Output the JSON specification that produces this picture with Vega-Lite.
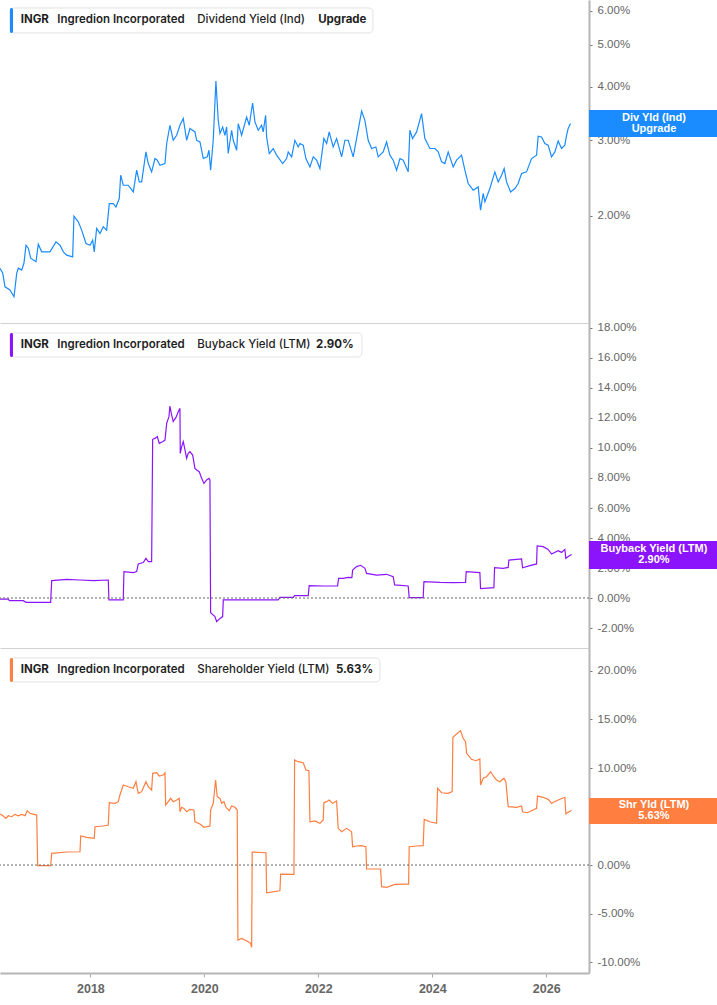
{
  "$schema": "https://vega.github.io/schema/vega-lite/v6.json",
  "padding": 0,
  "background": "white",
  "bounds": "flush",
  "spacing": 0,
  "config": {
    "view": {"stroke": null},
    "axis": {"grid": false, "title": null, "domainColor": "#b5b5b5", "tickColor": "#777777", "labelColor": "#666666", "labelFont": "Liberation Sans", "labelFontSize": 11.5, "labelOverlap": false},
    "text": {"font": "Inter"}
  },
  "datasets": {
    "div": [
      {"t":2016.414,"v":1.509},{"t":2016.461,"v":1.472},{"t":2016.502,"v":1.367},{"t":2016.589,"v":1.344},{"t":2016.660,"v":1.296},{"t":2016.707,"v":1.469},{"t":2016.735,"v":1.511},{"t":2016.795,"v":1.495},{"t":2016.835,"v":1.553},{"t":2016.870,"v":1.709},{"t":2016.911,"v":1.682},{"t":2016.953,"v":1.594},{"t":2017.046,"v":1.564},{"t":2017.086,"v":1.718},{"t":2017.146,"v":1.649},{"t":2017.291,"v":1.649},{"t":2017.396,"v":1.740},{"t":2017.467,"v":1.709},{"t":2017.525,"v":1.649},{"t":2017.584,"v":1.620},{"t":2017.689,"v":1.605},{"t":2017.712,"v":1.997},{"t":2017.788,"v":1.937},{"t":2017.847,"v":1.853},{"t":2017.923,"v":1.725},{"t":2017.993,"v":1.709},{"t":2018.040,"v":1.756},{"t":2018.068,"v":1.649},{"t":2018.110,"v":1.870},{"t":2018.168,"v":1.820},{"t":2018.226,"v":1.886},{"t":2018.286,"v":1.853},{"t":2018.332,"v":2.136},{"t":2018.402,"v":2.136},{"t":2018.449,"v":2.097},{"t":2018.507,"v":2.195},{"t":2018.532,"v":2.487},{"t":2018.577,"v":2.357},{"t":2018.665,"v":2.357},{"t":2018.753,"v":2.274},{"t":2018.812,"v":2.555},{"t":2018.858,"v":2.399},{"t":2018.900,"v":2.399},{"t":2018.975,"v":2.818},{"t":2019.016,"v":2.648},{"t":2019.075,"v":2.532},{"t":2019.133,"v":2.720},{"t":2019.174,"v":2.696},{"t":2019.221,"v":2.624},{"t":2019.309,"v":2.648},{"t":2019.339,"v":2.948},{"t":2019.396,"v":3.251},{"t":2019.454,"v":3.000},{"t":2019.514,"v":3.081},{"t":2019.572,"v":3.251},{"t":2019.630,"v":3.370},{"t":2019.689,"v":3.000},{"t":2019.747,"v":3.194},{"t":2019.835,"v":3.137},{"t":2019.865,"v":3.000},{"t":2019.923,"v":2.973},{"t":2019.981,"v":2.720},{"t":2020.051,"v":2.744},{"t":2020.081,"v":2.844},{"t":2020.110,"v":2.555},{"t":2020.156,"v":3.000},{"t":2020.203,"v":4.121},{"t":2020.244,"v":3.339},{"t":2020.274,"v":3.110},{"t":2020.321,"v":3.221},{"t":2020.361,"v":3.081},{"t":2020.391,"v":3.221},{"t":2020.419,"v":2.794},{"t":2020.479,"v":3.165},{"t":2020.507,"v":3.000},{"t":2020.567,"v":2.844},{"t":2020.595,"v":3.280},{"t":2020.654,"v":3.081},{"t":2020.742,"v":3.398},{"t":2020.788,"v":3.251},{"t":2020.847,"v":3.663},{"t":2020.888,"v":3.309},{"t":2020.946,"v":3.165},{"t":2021.005,"v":3.251},{"t":2021.033,"v":3.137},{"t":2021.075,"v":3.430},{"t":2021.093,"v":3.053},{"t":2021.139,"v":2.794},{"t":2021.209,"v":2.870},{"t":2021.268,"v":2.769},{"t":2021.374,"v":2.648},{"t":2021.444,"v":2.720},{"t":2021.472,"v":2.818},{"t":2021.532,"v":2.744},{"t":2021.589,"v":3.000},{"t":2021.647,"v":2.894},{"t":2021.677,"v":2.948},{"t":2021.735,"v":2.921},{"t":2021.782,"v":2.720},{"t":2021.853,"v":2.600},{"t":2021.911,"v":2.744},{"t":2021.970,"v":2.696},{"t":2022.028,"v":2.578},{"t":2022.098,"v":3.028},{"t":2022.146,"v":2.948},{"t":2022.191,"v":3.137},{"t":2022.261,"v":2.894},{"t":2022.321,"v":3.028},{"t":2022.409,"v":2.744},{"t":2022.467,"v":3.000},{"t":2022.525,"v":3.000},{"t":2022.612,"v":2.744},{"t":2022.682,"v":3.081},{"t":2022.760,"v":3.509},{"t":2022.817,"v":3.339},{"t":2022.875,"v":3.000},{"t":2022.935,"v":2.870},{"t":2023.010,"v":2.894},{"t":2023.051,"v":2.744},{"t":2023.138,"v":2.818},{"t":2023.198,"v":2.973},{"t":2023.256,"v":2.769},{"t":2023.314,"v":2.696},{"t":2023.374,"v":2.555},{"t":2023.432,"v":2.720},{"t":2023.490,"v":2.696},{"t":2023.577,"v":2.532},{"t":2023.607,"v":3.165},{"t":2023.654,"v":3.028},{"t":2023.725,"v":3.137},{"t":2023.812,"v":3.461},{"t":2023.870,"v":3.028},{"t":2023.958,"v":2.870},{"t":2024.046,"v":2.870},{"t":2024.104,"v":2.818},{"t":2024.163,"v":2.671},{"t":2024.221,"v":2.648},{"t":2024.279,"v":2.818},{"t":2024.367,"v":2.600},{"t":2024.426,"v":2.696},{"t":2024.514,"v":2.769},{"t":2024.572,"v":2.555},{"t":2024.630,"v":2.379},{"t":2024.718,"v":2.295},{"t":2024.805,"v":2.336},{"t":2024.847,"v":2.063},{"t":2024.893,"v":2.255},{"t":2024.923,"v":2.156},{"t":2025.010,"v":2.316},{"t":2025.098,"v":2.532},{"t":2025.156,"v":2.399},{"t":2025.216,"v":2.487},{"t":2025.261,"v":2.578},{"t":2025.303,"v":2.399},{"t":2025.374,"v":2.274},{"t":2025.449,"v":2.316},{"t":2025.507,"v":2.379},{"t":2025.567,"v":2.510},{"t":2025.654,"v":2.532},{"t":2025.742,"v":2.720},{"t":2025.830,"v":2.769},{"t":2025.858,"v":3.065},{"t":2025.917,"v":3.053},{"t":2025.975,"v":2.948},{"t":2026.033,"v":2.921},{"t":2026.093,"v":2.744},{"t":2026.151,"v":2.818},{"t":2026.209,"v":2.989},{"t":2026.268,"v":2.870},{"t":2026.326,"v":2.921},{"t":2026.356,"v":3.081},{"t":2026.384,"v":3.194},{"t":2026.426,"v":3.280}
    ],
    "buyback": [
      {"t":2016.414,"v":-0.07},{"t":2016.560,"v":-0.07},{"t":2016.577,"v":-0.18},{"t":2016.823,"v":-0.18},{"t":2016.870,"v":-0.29},{"t":2017.303,"v":-0.29},{"t":2017.321,"v":1.16},{"t":2017.584,"v":1.24},{"t":2017.818,"v":1.20},{"t":2018.051,"v":1.16},{"t":2018.314,"v":1.20},{"t":2018.326,"v":-0.13},{"t":2018.577,"v":-0.13},{"t":2018.589,"v":1.76},{"t":2018.753,"v":1.69},{"t":2018.812,"v":1.76},{"t":2018.840,"v":2.27},{"t":2018.928,"v":2.36},{"t":2018.975,"v":2.64},{"t":2019.016,"v":2.42},{"t":2019.075,"v":2.42},{"t":2019.093,"v":10.58},{"t":2019.133,"v":10.64},{"t":2019.174,"v":10.76},{"t":2019.209,"v":10.31},{"t":2019.268,"v":10.42},{"t":2019.309,"v":10.53},{"t":2019.339,"v":11.64},{"t":2019.379,"v":12.09},{"t":2019.396,"v":12.80},{"t":2019.426,"v":12.20},{"t":2019.454,"v":11.76},{"t":2019.502,"v":12.04},{"t":2019.542,"v":12.42},{"t":2019.572,"v":12.64},{"t":2019.577,"v":9.64},{"t":2019.602,"v":10.09},{"t":2019.630,"v":10.42},{"t":2019.660,"v":9.87},{"t":2019.689,"v":9.31},{"t":2019.717,"v":9.64},{"t":2019.747,"v":9.76},{"t":2019.795,"v":9.53},{"t":2019.835,"v":8.64},{"t":2019.865,"v":8.53},{"t":2019.910,"v":8.42},{"t":2019.953,"v":7.98},{"t":2019.993,"v":7.64},{"t":2020.040,"v":7.87},{"t":2020.081,"v":7.98},{"t":2020.098,"v":7.87},{"t":2020.110,"v":-0.98},{"t":2020.186,"v":-1.24},{"t":2020.216,"v":-1.58},{"t":2020.274,"v":-1.36},{"t":2020.321,"v":-1.24},{"t":2020.332,"v":-0.13},{"t":2020.858,"v":-0.13},{"t":2021.296,"v":-0.13},{"t":2021.326,"v":0.04},{"t":2021.560,"v":0.04},{"t":2021.584,"v":0.16},{"t":2021.823,"v":0.16},{"t":2021.840,"v":0.82},{"t":2022.086,"v":0.80},{"t":2022.338,"v":0.80},{"t":2022.356,"v":1.31},{"t":2022.437,"v":1.31},{"t":2022.525,"v":1.38},{"t":2022.589,"v":1.36},{"t":2022.602,"v":1.87},{"t":2022.672,"v":2.09},{"t":2022.742,"v":2.18},{"t":2022.818,"v":1.98},{"t":2022.847,"v":1.64},{"t":2023.023,"v":1.53},{"t":2023.198,"v":1.58},{"t":2023.314,"v":1.42},{"t":2023.339,"v":0.87},{"t":2023.577,"v":0.80},{"t":2023.595,"v":0.02},{"t":2023.840,"v":0.02},{"t":2023.853,"v":1.09},{"t":2024.133,"v":1.04},{"t":2024.367,"v":1.02},{"t":2024.584,"v":1.04},{"t":2024.595,"v":1.76},{"t":2024.835,"v":1.69},{"t":2024.847,"v":0.62},{"t":2025.081,"v":0.69},{"t":2025.093,"v":2.02},{"t":2025.244,"v":1.98},{"t":2025.332,"v":2.04},{"t":2025.344,"v":2.53},{"t":2025.567,"v":2.60},{"t":2025.584,"v":2.02},{"t":2025.712,"v":2.16},{"t":2025.830,"v":2.27},{"t":2025.840,"v":3.47},{"t":2025.945,"v":3.42},{"t":2026.033,"v":3.24},{"t":2026.093,"v":2.93},{"t":2026.209,"v":3.16},{"t":2026.268,"v":3.04},{"t":2026.326,"v":3.24},{"t":2026.344,"v":2.64},{"t":2026.384,"v":2.76},{"t":2026.444,"v":2.90}
    ],
    "shareholder": [
      {"t":2016.414,"v":5.26},{"t":2016.472,"v":5.05},{"t":2016.519,"v":4.81},{"t":2016.560,"v":5.08},{"t":2016.619,"v":4.98},{"t":2016.677,"v":5.22},{"t":2016.735,"v":5.08},{"t":2016.795,"v":5.22},{"t":2016.853,"v":5.08},{"t":2016.893,"v":5.60},{"t":2016.940,"v":5.33},{"t":2017.058,"v":5.15},{"t":2017.075,"v":-0.07},{"t":2017.303,"v":-0.07},{"t":2017.321,"v":1.20},{"t":2017.584,"v":1.34},{"t":2017.818,"v":1.37},{"t":2017.830,"v":2.99},{"t":2017.935,"v":2.85},{"t":2018.068,"v":2.75},{"t":2018.081,"v":3.95},{"t":2018.226,"v":4.02},{"t":2018.314,"v":4.12},{"t":2018.332,"v":6.42},{"t":2018.432,"v":6.36},{"t":2018.490,"v":6.53},{"t":2018.519,"v":7.22},{"t":2018.577,"v":8.25},{"t":2018.665,"v":8.07},{"t":2018.753,"v":7.91},{"t":2018.800,"v":8.59},{"t":2018.840,"v":7.39},{"t":2018.900,"v":7.56},{"t":2018.975,"v":8.59},{"t":2019.016,"v":8.07},{"t":2019.075,"v":7.73},{"t":2019.093,"v":9.45},{"t":2019.163,"v":9.52},{"t":2019.209,"v":9.18},{"t":2019.279,"v":9.28},{"t":2019.309,"v":9.52},{"t":2019.321,"v":6.19},{"t":2019.367,"v":6.53},{"t":2019.409,"v":6.87},{"t":2019.454,"v":6.53},{"t":2019.514,"v":6.70},{"t":2019.560,"v":6.87},{"t":2019.572,"v":5.49},{"t":2019.602,"v":5.95},{"t":2019.642,"v":5.84},{"t":2019.689,"v":5.49},{"t":2019.747,"v":5.74},{"t":2019.817,"v":5.67},{"t":2019.835,"v":4.46},{"t":2019.923,"v":4.23},{"t":2019.993,"v":3.89},{"t":2020.098,"v":4.02},{"t":2020.110,"v":5.67},{"t":2020.156,"v":6.36},{"t":2020.198,"v":8.76},{"t":2020.226,"v":7.04},{"t":2020.274,"v":6.87},{"t":2020.303,"v":6.36},{"t":2020.344,"v":6.53},{"t":2020.379,"v":5.95},{"t":2020.437,"v":5.60},{"t":2020.479,"v":6.08},{"t":2020.537,"v":5.95},{"t":2020.577,"v":5.67},{"t":2020.589,"v":-7.73},{"t":2020.654,"v":-7.56},{"t":2020.712,"v":-7.73},{"t":2020.770,"v":-7.90},{"t":2020.812,"v":-8.07},{"t":2020.830,"v":-8.48},{"t":2020.840,"v":1.34},{"t":2021.081,"v":1.27},{"t":2021.093,"v":-2.86},{"t":2021.326,"v":-2.65},{"t":2021.339,"v":-0.93},{"t":2021.572,"v":-0.96},{"t":2021.584,"v":10.82},{"t":2021.647,"v":10.65},{"t":2021.735,"v":10.55},{"t":2021.782,"v":9.79},{"t":2021.835,"v":9.72},{"t":2021.853,"v":4.46},{"t":2021.940,"v":4.54},{"t":2022.028,"v":4.30},{"t":2022.086,"v":4.64},{"t":2022.098,"v":6.42},{"t":2022.146,"v":6.53},{"t":2022.191,"v":6.70},{"t":2022.251,"v":6.36},{"t":2022.321,"v":6.60},{"t":2022.349,"v":3.78},{"t":2022.409,"v":3.43},{"t":2022.496,"v":3.78},{"t":2022.584,"v":3.43},{"t":2022.602,"v":1.89},{"t":2022.672,"v":1.96},{"t":2022.760,"v":1.99},{"t":2022.835,"v":1.89},{"t":2022.847,"v":-0.41},{"t":2023.093,"v":-0.41},{"t":2023.111,"v":-2.23},{"t":2023.198,"v":-2.30},{"t":2023.344,"v":-1.99},{"t":2023.490,"v":-1.96},{"t":2023.584,"v":-1.96},{"t":2023.595,"v":1.89},{"t":2023.725,"v":1.96},{"t":2023.840,"v":1.99},{"t":2023.858,"v":4.71},{"t":2023.958,"v":4.46},{"t":2024.075,"v":4.30},{"t":2024.093,"v":7.91},{"t":2024.163,"v":7.45},{"t":2024.279,"v":7.39},{"t":2024.349,"v":7.56},{"t":2024.361,"v":13.16},{"t":2024.426,"v":13.51},{"t":2024.496,"v":13.85},{"t":2024.542,"v":13.06},{"t":2024.584,"v":12.71},{"t":2024.602,"v":11.52},{"t":2024.689,"v":10.90},{"t":2024.765,"v":10.75},{"t":2024.835,"v":10.93},{"t":2024.847,"v":8.25},{"t":2024.893,"v":8.94},{"t":2024.953,"v":9.10},{"t":2025.023,"v":9.62},{"t":2025.081,"v":9.10},{"t":2025.128,"v":8.76},{"t":2025.186,"v":8.59},{"t":2025.256,"v":8.94},{"t":2025.291,"v":8.59},{"t":2025.332,"v":6.01},{"t":2025.479,"v":5.95},{"t":2025.567,"v":6.08},{"t":2025.584,"v":5.49},{"t":2025.665,"v":5.39},{"t":2025.742,"v":5.60},{"t":2025.830,"v":5.84},{"t":2025.847,"v":7.11},{"t":2025.945,"v":6.98},{"t":2026.033,"v":6.77},{"t":2026.093,"v":6.36},{"t":2026.181,"v":6.63},{"t":2026.251,"v":6.80},{"t":2026.326,"v":6.98},{"t":2026.344,"v":5.26},{"t":2026.384,"v":5.43},{"t":2026.444,"v":5.63}
    ]
  },
  "vconcat": [
    {
      "width": 589,
      "height": 323,
      "layer": [
        {
          "data": {"name": "div"},
          "mark": {"type": "line", "color": "#1a8cff", "strokeWidth": 1.2, "clip": true},
          "encoding": {
            "x": {"field": "t", "type": "quantitative", "scale": {"domain": [2016.414, 2026.75], "nice": false, "zero": false, "padding": 0}, "axis": {"labels": false, "ticks": false, "domain": true, "domainColor": "#d2d2d2", "domainWidth": 1}},
            "y": {"field": "v", "type": "quantitative", "scale": {"type": "log", "domain": [1.126, 6.364], "nice": false, "padding": 0}, "axis": {"orient": "right", "values": [2, 3, 4, 5, 6], "tickCount": 20, "labelOverlap": false, "labelExpr": "format(datum.value, '.2f') + '%'", "domainWidth": 2, "tickSize": 3, "labelPadding": 5}}
          }
        },
        {
          "data": {"values": [{}]},
          "mark": {"type": "rect", "fill": "white", "stroke": "#e2e2e2", "strokeWidth": 1, "cornerRadius": 4},
          "encoding": {"x": {"datum": 2016.589}, "x2": {"datum": 2022.958}, "y": {"datum": 6.097}, "y2": {"datum": 5.333}}
        },
        {
          "data": {"values": [{}]},
          "mark": {"type": "rect", "fill": "#1a8cff", "cornerRadius": 2},
          "encoding": {"x": {"datum": 2016.589}, "x2": {"datum": 2016.642}, "y": {"datum": 6.097}, "y2": {"datum": 5.333}}
        },
        {
          "data": {"values": [{"ticker": "INGR", "company": "Ingredion Incorporated", "metric": "Dividend Yield (Ind)", "reading": "Upgrade"}]},
          "layer": [
            {"mark": {"type": "text", "align": "left", "baseline": "middle", "fontSize": 11.5, "fontWeight": 700, "color": "#1f1f1f"}, "encoding": {"x": {"datum": 2016.777}, "y": {"datum": 5.702}, "text": {"field": "ticker"}}},
            {"mark": {"type": "text", "align": "left", "baseline": "middle", "fontSize": 11.5, "fontWeight": 600, "color": "#1f1f1f"}, "encoding": {"x": {"datum": 2017.419}, "y": {"datum": 5.702}, "text": {"field": "company"}}},
            {"mark": {"type": "text", "align": "left", "baseline": "middle", "fontSize": 11.5, "fontWeight": 500, "color": "#1f1f1f"}, "encoding": {"x": {"datum": 2019.875}, "y": {"datum": 5.702}, "text": {"field": "metric"}}},
            {"mark": {"type": "text", "align": "left", "baseline": "middle", "fontSize": 11.5, "fontWeight": 700, "color": "#1f1f1f"}, "encoding": {"x": {"datum": 2021.998}, "y": {"datum": 5.702}, "text": {"field": "reading"}}}
          ]
        },
        {
          "data": {"values": [{"v": 3.28, "label": "Div Yld (Ind)\nUpgrade"}]},
          "layer": [
            {"mark": {"type": "bar", "color": "#1a8cff", "size": 27, "orient": "horizontal"}, "encoding": {"x": {"datum": 2026.75}, "x2": {"datum": 2029.0}, "y": {"field": "v", "type": "quantitative"}}},
            {"mark": {"type": "text", "color": "white", "font": "Liberation Sans", "fontWeight": "bold", "fontSize": 11, "lineBreak": "\n", "lineHeight": 11, "align": "center", "baseline": "middle", "dy": -5.5}, "encoding": {"x": {"datum": 2027.89}, "y": {"field": "v", "type": "quantitative"}, "text": {"field": "label"}}}
          ]
        }
      ]
    },
    {
      "width": 589,
      "height": 325,
      "layer": [
        {
          "data": {"name": "buyback"},
          "mark": {"type": "line", "color": "#8c14fc", "strokeWidth": 1.2, "clip": true},
          "encoding": {
            "x": {"field": "t", "type": "quantitative", "scale": {"domain": [2016.414, 2026.75], "nice": false, "zero": false, "padding": 0}, "axis": {"labels": false, "ticks": false, "domain": true, "domainColor": "#d2d2d2", "domainWidth": 1}},
            "y": {"field": "v", "type": "quantitative", "scale": {"domain": [-3.333, 18.333], "nice": false, "zero": false, "padding": 0}, "axis": {"orient": "right", "values": [-2, 0, 2, 4, 6, 8, 10, 12, 14, 16, 18], "tickCount": 20, "labelOverlap": false, "labelExpr": "replace(format(datum.value, '.2f'), '\u2212', '-') + '%'", "domainWidth": 2, "tickSize": 3, "labelPadding": 5}}
          }
        },
        {
          "data": {"values": [{}]},
          "mark": {"type": "rule", "color": "#666666", "strokeWidth": 1, "strokeDash": [2, 2], "clip": true},
          "encoding": {"y": {"datum": 0}}
        },
        {
          "data": {"values": [{}]},
          "mark": {"type": "rect", "fill": "white", "stroke": "#e2e2e2", "strokeWidth": 1, "cornerRadius": 4},
          "encoding": {"x": {"datum": 2016.589}, "x2": {"datum": 2022.765}, "y": {"datum": 17.667}, "y2": {"datum": 16.067}}
        },
        {
          "data": {"values": [{}]},
          "mark": {"type": "rect", "fill": "#8c14fc", "cornerRadius": 2},
          "encoding": {"x": {"datum": 2016.589}, "x2": {"datum": 2016.642}, "y": {"datum": 17.667}, "y2": {"datum": 16.067}}
        },
        {
          "data": {"values": [{"ticker": "INGR", "company": "Ingredion Incorporated", "metric": "Buyback Yield (LTM)", "reading": "2.90%"}]},
          "layer": [
            {"mark": {"type": "text", "align": "left", "baseline": "middle", "fontSize": 11.5, "fontWeight": 700, "color": "#1f1f1f"}, "encoding": {"x": {"datum": 2016.777}, "y": {"datum": 16.867}, "text": {"field": "ticker"}}},
            {"mark": {"type": "text", "align": "left", "baseline": "middle", "fontSize": 11.5, "fontWeight": 600, "color": "#1f1f1f"}, "encoding": {"x": {"datum": 2017.419}, "y": {"datum": 16.867}, "text": {"field": "company"}}},
            {"mark": {"type": "text", "align": "left", "baseline": "middle", "fontSize": 11.5, "fontWeight": 500, "color": "#1f1f1f"}, "encoding": {"x": {"datum": 2019.875}, "y": {"datum": 16.867}, "text": {"field": "metric"}}},
            {"mark": {"type": "text", "align": "left", "baseline": "middle", "fontSize": 11.5, "fontWeight": 700, "color": "#1f1f1f"}, "encoding": {"x": {"datum": 2021.958}, "y": {"datum": 16.867}, "text": {"field": "reading"}}}
          ]
        },
        {
          "data": {"values": [{"v": 2.87, "label": "Buyback Yield (LTM)\n2.90%"}]},
          "layer": [
            {"mark": {"type": "bar", "color": "#8c14fc", "size": 28, "orient": "horizontal"}, "encoding": {"x": {"datum": 2026.75}, "x2": {"datum": 2029.0}, "y": {"field": "v", "type": "quantitative"}}},
            {"mark": {"type": "text", "color": "white", "font": "Liberation Sans", "fontWeight": "bold", "fontSize": 11, "lineBreak": "\n", "lineHeight": 11, "align": "center", "baseline": "middle", "dy": -5.5}, "encoding": {"x": {"datum": 2027.89}, "y": {"field": "v", "type": "quantitative"}, "text": {"field": "label"}}}
          ]
        }
      ]
    },
    {
      "width": 589,
      "height": 325,
      "layer": [
        {
          "data": {"name": "shareholder"},
          "mark": {"type": "line", "color": "#ff7e40", "strokeWidth": 1.2, "clip": true},
          "encoding": {
            "x": {"field": "t", "type": "quantitative", "scale": {"domain": [2016.414, 2026.75], "nice": false, "zero": false, "padding": 0}, "axis": {"values": [2018, 2020, 2022, 2024, 2026], "tickCount": 20, "format": "d", "labelFontWeight": "bold", "labelFontSize": 12.5, "labelColor": "#666666", "tickSize": 4, "tickColor": "#aaaaaa", "domainWidth": 2, "labelPadding": 5}},
            "y": {"field": "v", "type": "quantitative", "scale": {"domain": [-11.13, 22.37], "nice": false, "zero": false, "padding": 0}, "axis": {"orient": "right", "values": [-10, -5, 0, 5, 10, 15, 20], "tickCount": 20, "labelOverlap": false, "labelExpr": "replace(format(datum.value, '.2f'), '\u2212', '-') + '%'", "domainWidth": 2, "tickSize": 3, "labelPadding": 5}}
          }
        },
        {
          "data": {"values": [{}]},
          "mark": {"type": "rule", "color": "#666666", "strokeWidth": 1, "strokeDash": [2, 2], "clip": true},
          "encoding": {"y": {"datum": 0}}
        },
        {
          "data": {"values": [{}]},
          "mark": {"type": "rect", "fill": "white", "stroke": "#e2e2e2", "strokeWidth": 1, "cornerRadius": 4},
          "encoding": {"x": {"datum": 2016.589}, "x2": {"datum": 2023.081}, "y": {"datum": 21.34}, "y2": {"datum": 18.87}}
        },
        {
          "data": {"values": [{}]},
          "mark": {"type": "rect", "fill": "#ff7e40", "cornerRadius": 2},
          "encoding": {"x": {"datum": 2016.589}, "x2": {"datum": 2016.642}, "y": {"datum": 21.34}, "y2": {"datum": 18.87}}
        },
        {
          "data": {"values": [{"ticker": "INGR", "company": "Ingredion Incorporated", "metric": "Shareholder Yield (LTM)", "reading": "5.63%"}]},
          "layer": [
            {"mark": {"type": "text", "align": "left", "baseline": "middle", "fontSize": 11.5, "fontWeight": 700, "color": "#1f1f1f"}, "encoding": {"x": {"datum": 2016.777}, "y": {"datum": 20.10}, "text": {"field": "ticker"}}},
            {"mark": {"type": "text", "align": "left", "baseline": "middle", "fontSize": 11.5, "fontWeight": 600, "color": "#1f1f1f"}, "encoding": {"x": {"datum": 2017.419}, "y": {"datum": 20.10}, "text": {"field": "company"}}},
            {"mark": {"type": "text", "align": "left", "baseline": "middle", "fontSize": 11.5, "fontWeight": 500, "color": "#1f1f1f"}, "encoding": {"x": {"datum": 2019.875}, "y": {"datum": 20.10}, "text": {"field": "metric"}}},
            {"mark": {"type": "text", "align": "left", "baseline": "middle", "fontSize": 11.5, "fontWeight": 700, "color": "#1f1f1f"}, "encoding": {"x": {"datum": 2022.309}, "y": {"datum": 20.10}, "text": {"field": "reading"}}}
          ]
        },
        {
          "data": {"values": [{"v": 5.57, "label": "Shr Yld (LTM)\n5.63%"}]},
          "layer": [
            {"mark": {"type": "bar", "color": "#ff7e40", "size": 26, "orient": "horizontal"}, "encoding": {"x": {"datum": 2026.75}, "x2": {"datum": 2029.0}, "y": {"field": "v", "type": "quantitative"}}},
            {"mark": {"type": "text", "color": "white", "font": "Liberation Sans", "fontWeight": "bold", "fontSize": 11, "lineBreak": "\n", "lineHeight": 11, "align": "center", "baseline": "middle", "dy": -5.5}, "encoding": {"x": {"datum": 2027.89}, "y": {"field": "v", "type": "quantitative"}, "text": {"field": "label"}}}
          ]
        }
      ]
    }
  ]
}
